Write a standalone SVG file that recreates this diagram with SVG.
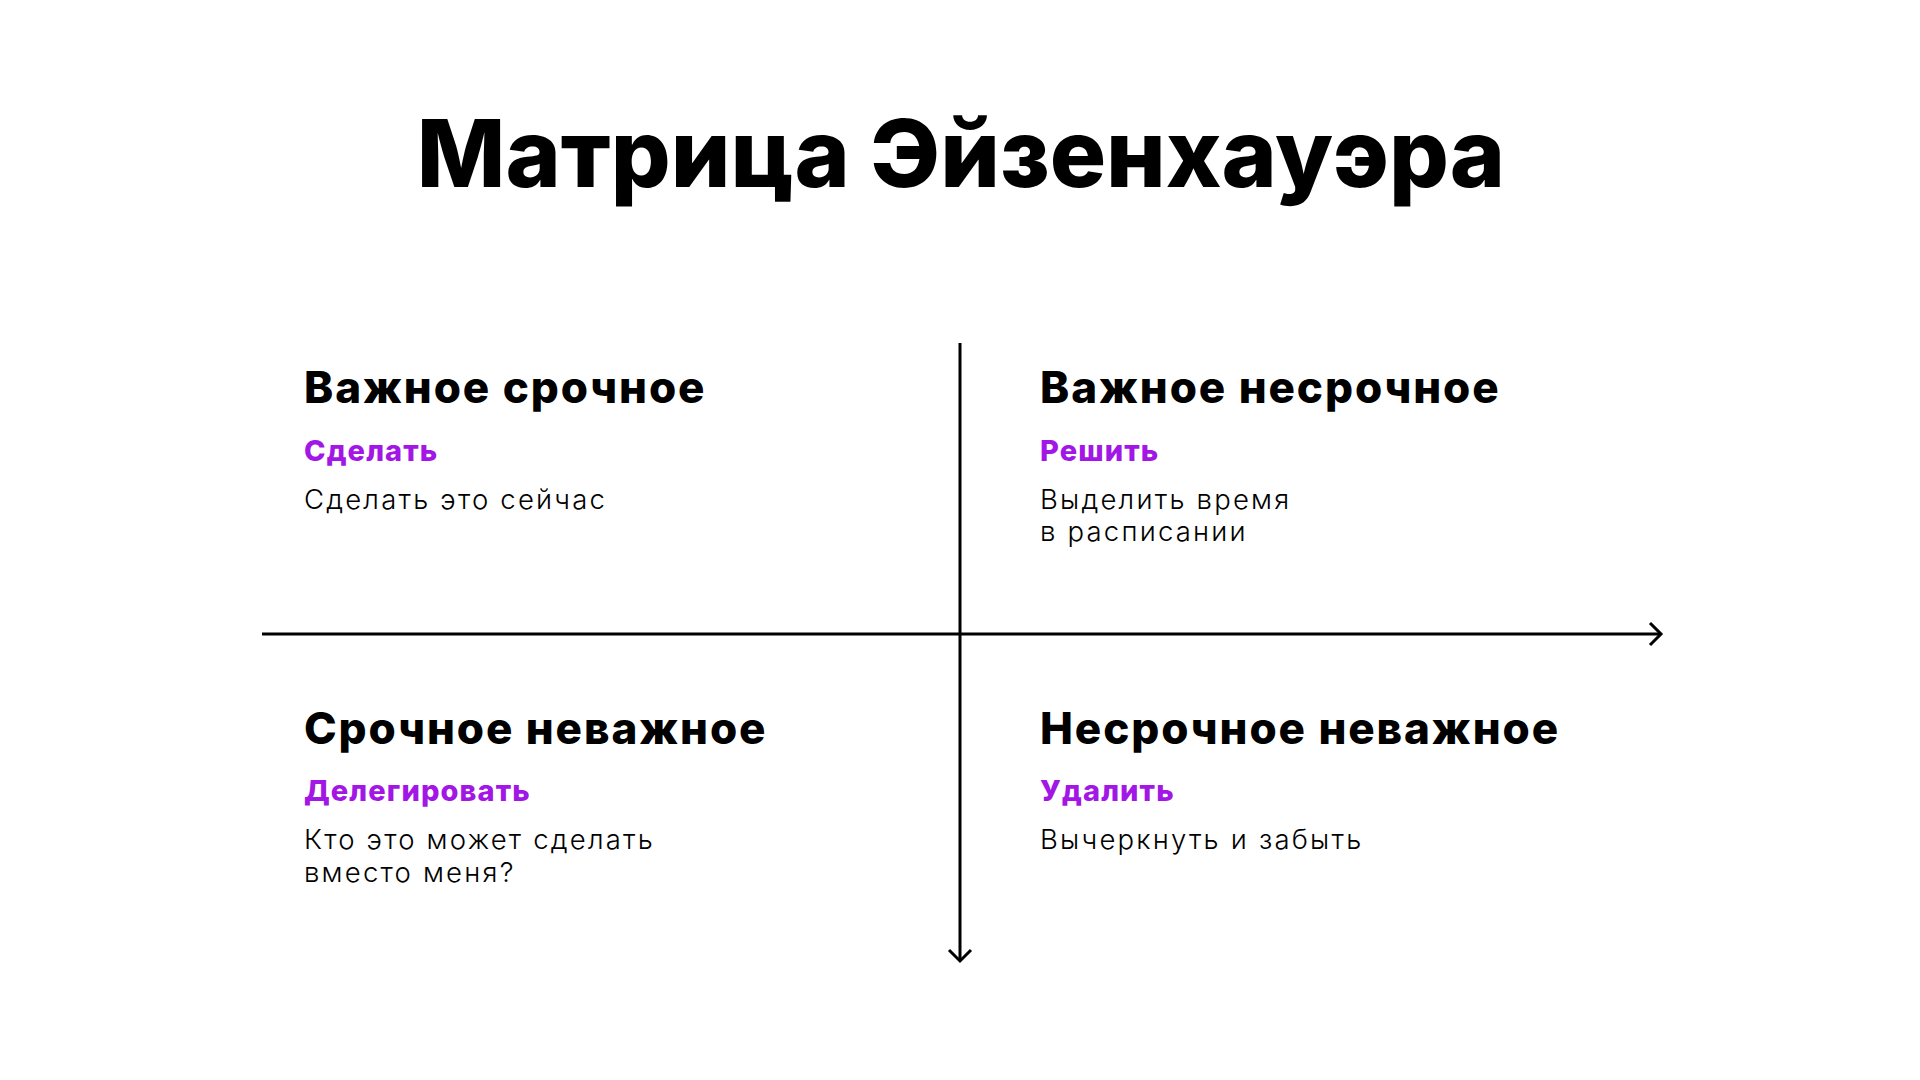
<svg xmlns="http://www.w3.org/2000/svg" width="1920" height="1080" viewBox="0 0 1920 1080">
<defs>
<style>
.title{font-family:Inter,"Noto Sans",sans-serif;font-weight:800;font-size:94px;fill:#000}
.head{font-family:Inter,"Noto Sans",sans-serif;font-weight:800;font-size:44px;letter-spacing:1.9px;fill:#000}
.act{font-family:Inter,"Noto Sans",sans-serif;font-weight:800;font-size:29px;letter-spacing:1.1px;fill:#A217E6}
.body{font-family:Inter,"Noto Sans",sans-serif;font-weight:300;font-size:27.5px;letter-spacing:2.2px;fill:#000}
.axis{stroke:#000;stroke-width:3;fill:none}
</style>
<marker id="chev" viewBox="-13 -13 16 26" markerWidth="16" markerHeight="26" refX="0" refY="0" orient="auto" markerUnits="userSpaceOnUse">
<path d="M -11 -11 L 0 0 L -11 11" stroke="#000" stroke-width="3" fill="none"/>
</marker>
</defs>
<rect width="1920" height="1080" fill="#fff"/>
<text id="title" class="title" x="961" y="187" text-anchor="middle">Матрица Эйзенхауэра</text>
<g id="connectors">
<line class="axis" x1="960" y1="343" x2="960" y2="961" marker-end="url(#chev)"/>
<line class="axis" x1="262" y1="634" x2="1661" y2="634" marker-end="url(#chev)"/>
</g>
<g id="q1">
<text class="head" x="304" y="403">Важное срочное</text>
<text class="act" x="304" y="461">Сделать</text>
<text class="body" x="304" y="509">Сделать это сейчас</text>
</g>
<g id="q2">
<text class="head" x="1040" y="403">Важное несрочное</text>
<text class="act" x="1040" y="461">Решить</text>
<text class="body" x="1040" y="509">Выделить время</text>
<text class="body" x="1040" y="541">в расписании</text>
</g>
<g id="q3">
<text class="head" x="304" y="744">Срочное неважное</text>
<text class="act" x="304" y="801">Делегировать</text>
<text class="body" x="304" y="849">Кто это может сделать</text>
<text class="body" x="304" y="882">вместо меня?</text>
</g>
<g id="q4">
<text class="head" x="1040" y="744">Несрочное неважное</text>
<text class="act" x="1040" y="801">Удалить</text>
<text class="body" x="1040" y="849">Вычеркнуть и забыть</text>
</g>
</svg>
